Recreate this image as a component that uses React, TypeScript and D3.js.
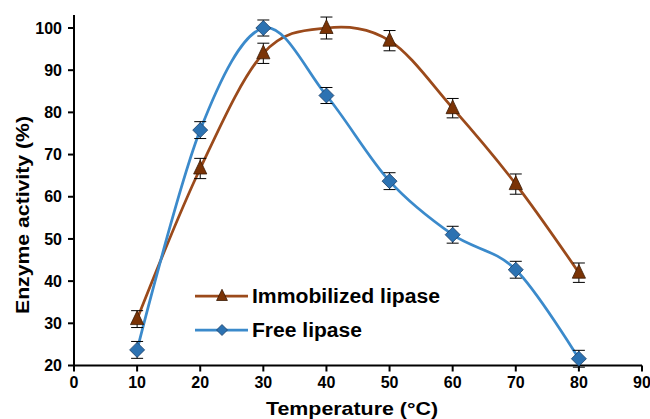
import React from "react";
import * as d3 from "d3";

const temperatures = [10, 20, 30, 40, 50, 60, 70, 80];
const immobilized = [31, 66.7, 94, 100, 97, 81, 63, 42];
const immobilizedErr = [2, 2.4, 2.4, 2.6, 2.4, 2.3, 2.4, 2.3];
const free = [23.7, 75.8, 100, 84, 63.7, 51, 42.7, 21.6];
const freeErr = [2, 2, 1.9, 1.9, 2, 2, 2, 2];
const xTicks = [0, 10, 20, 30, 40, 50, 60, 70, 80, 90];
const yTicks = [20, 30, 40, 50, 60, 70, 80, 90, 100];

const BROWN_LINE = "#9B4A1B";
const BROWN_FILL = "#7A3306";
const BLUE_LINE = "#3B8ACB";
const BLUE_FILL = "#2C72B2";
const FONT = "'Liberation Sans', Arial, sans-serif";

export default function App() {
  const x = d3.scaleLinear().domain([0, 90]).range([74, 642]);
  const y = d3.scaleLinear().domain([20, 100]).range([365.5, 28]);
  const line = d3
    .line<[number, number]>()
    .x((d) => x(d[0]))
    .y((d) => y(d[1]))
    .curve(d3.curveCatmullRom.alpha(0));

  const immPts: [number, number][] = temperatures.map((t, i) => [t, immobilized[i]]);
  const freePts: [number, number][] = temperatures.map((t, i) => [t, free[i]]);

  const tri = (cx: number, cy: number, s: number) =>
    `M${cx},${cy - s * 0.75} L${cx + s * 0.6},${cy + s * 0.5} L${cx - s * 0.6},${cy + s * 0.5} Z`;
  const dia = (cx: number, cy: number, s: number) =>
    `M${cx},${cy - s} L${cx + s},${cy} L${cx},${cy + s} L${cx - s},${cy} Z`;

  const errBars = (vals: number[], errs: number[], key: string) =>
    temperatures.map((t, i) => {
      const cx = x(t);
      const y1 = y(vals[i] + errs[i]);
      const y2 = y(vals[i] - errs[i]);
      return (
        <g key={key + i} stroke="#000" strokeWidth={1}>
          <line x1={cx} x2={cx} y1={y1} y2={y2} />
          <line x1={cx - 6} x2={cx + 6} y1={y1} y2={y1} />
          <line x1={cx - 6} x2={cx + 6} y1={y2} y2={y2} />
        </g>
      );
    });

  return (
    <svg
      width={650}
      height={419}
      style={{ position: "absolute", left: 0, top: 0, background: "#fff" }}
      fontFamily={FONT}
    >
      <rect width={650} height={419} fill="#fff" />
      {/* axes */}
      <line x1={74} x2={74} y1={15} y2={y(20)} stroke="#000" strokeWidth={2} />
      <line x1={73} x2={x(90)} y1={y(20)} y2={y(20)} stroke="#000" strokeWidth={2} />
      {yTicks.map((v) => (
        <g key={"yt" + v}>
          <line x1={68} x2={74} y1={y(v)} y2={y(v)} stroke="#000" strokeWidth={2} />
          <text x={62} y={y(v)} dy="0.35em" textAnchor="end" fontSize={16} fontWeight="bold">
            {v}
          </text>
        </g>
      ))}
      {xTicks.map((v) => (
        <g key={"xt" + v}>
          <line x1={x(v)} x2={x(v)} y1={y(20)} y2={y(20) + 6} stroke="#000" strokeWidth={2} />
          <text x={x(v)} y={388} textAnchor="middle" fontSize={16} fontWeight="bold">
            {v}
          </text>
        </g>
      ))}
      <text
        x={352}
        y={415}
        textAnchor="middle"
        fontSize={19}
        fontWeight="bold"
        textLength={172}
        lengthAdjust="spacingAndGlyphs"
      >
        Temperature (°C)
      </text>
      <text
        transform="translate(29,215) rotate(-90)"
        textAnchor="middle"
        fontSize={18}
        fontWeight="bold"
        textLength={198}
        lengthAdjust="spacingAndGlyphs"
      >
        Enzyme activity (%)
      </text>

      {/* lines */}
      <path d={line(immPts) || ""} fill="none" stroke={BROWN_LINE} strokeWidth={2.75} />
      <path d={line(freePts) || ""} fill="none" stroke={BLUE_LINE} strokeWidth={2.75} />

      {errBars(immobilized, immobilizedErr, "ie")}
      {errBars(free, freeErr, "fe")}

      {temperatures.map((t, i) => (
        <path key={"tm" + i} d={tri(x(t), y(immobilized[i]), 11)} fill={BROWN_FILL} stroke="#3a1a05" strokeWidth={0.8} />
      ))}
      {temperatures.map((t, i) => (
        <path key={"dm" + i} d={dia(x(t), y(free[i]), 7.5)} fill={BLUE_FILL} stroke="#1d3f66" strokeWidth={0.8} />
      ))}

      {/* legend */}
      <line x1={195} x2={248} y1={296} y2={296} stroke={BROWN_LINE} strokeWidth={2.75} />
      <path d={tri(222, 296, 9)} fill={BROWN_FILL} stroke="#3a1a05" strokeWidth={0.8} />
      <text x={252} y={303} fontSize={20} fontWeight="bold" textLength={188} lengthAdjust="spacingAndGlyphs">
        Immobilized lipase
      </text>
      <line x1={195} x2={248} y1={330} y2={330} stroke={BLUE_LINE} strokeWidth={2.75} />
      <path d={dia(222, 330, 5.5)} fill={BLUE_FILL} stroke="#1d3f66" strokeWidth={0.8} />
      <text x={252} y={337} fontSize={20} fontWeight="bold" textLength={110} lengthAdjust="spacingAndGlyphs">
        Free lipase
      </text>
    </svg>
  );
}
